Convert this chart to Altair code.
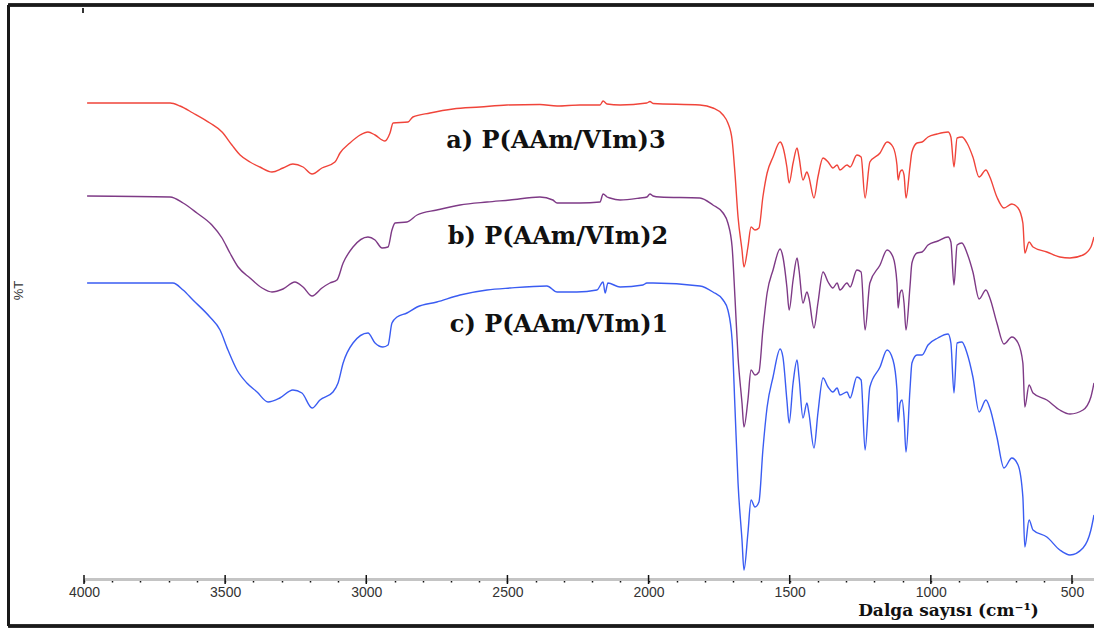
import altair as alt
import pandas as pd

# ---- data (wavenumber cm^-1, relative %T units) ----
wn_a = [3989, 3695, 3660, 3614, 3554, 3511, 3476, 3447, 3412, 3377, 3334, 3295, 3260, 3224, 3192,
        3157, 3111, 3093, 3058, 3022, 2994, 2969, 2934, 2916, 2905, 2852, 2835, 2774, 2693, 2597,
        2502, 2385, 2324, 2243, 2172, 2161, 2147, 2101, 2006, 1995, 1984, 1818, 1772, 1736, 1719,
        1704, 1694, 1683, 1669, 1662, 1648, 1637, 1623, 1609, 1595, 1580, 1559, 1534, 1524, 1510,
        1502, 1488, 1474, 1467, 1453, 1439, 1432, 1414, 1400, 1382, 1364, 1347, 1332, 1322, 1297,
        1286, 1262, 1247, 1233, 1216, 1180, 1155, 1134, 1120, 1116, 1109, 1102, 1095, 1088, 1074,
        1067, 1049, 1031, 1010, 978, 939, 929, 918, 907, 890, 872, 851, 829, 805, 791,
        766, 741, 713, 691, 674, 667, 652, 638, 589, 543, 507, 461, 433, 422]
t_a = [476, 476, 473, 466, 456, 447, 434, 424, 417, 412, 407, 411, 415, 412, 405,
       411, 417, 426, 436, 444, 447, 444, 438, 446, 456, 457, 462, 466, 470, 472,
       474, 474.5, 473, 474, 474, 478, 475, 474, 476, 477.5, 475.5, 474, 471, 464, 456,
       439, 406, 362, 329, 312, 332, 352, 349, 351, 382, 406, 422, 437, 432, 412,
       396, 416, 431, 422, 399, 407, 402, 381, 402, 421, 417, 411, 414, 409, 414,
       412, 424, 422, 381, 417, 426, 437, 432, 414, 399, 407, 409, 404, 381, 412,
       427, 436, 437, 442, 445, 447, 442, 412, 441, 442, 436, 422, 402, 409, 402,
       382, 371, 375, 371, 356, 326, 337, 332, 327, 322, 321, 324, 332, 342]

wn_b = [3989, 3695, 3649, 3600, 3547, 3511, 3483, 3454, 3412, 3369, 3334, 3295, 3253, 3224, 3192,
        3157, 3129, 3104, 3082, 3047, 2994, 2969, 2944, 2923, 2909, 2898, 2856, 2820, 2750, 2668,
        2572, 2491, 2385, 2339, 2324, 2243, 2172, 2161, 2147, 2137, 2101, 2030, 2006, 1995, 1984,
        1960, 1818, 1772, 1736, 1719, 1704, 1694, 1683, 1669, 1662, 1648, 1637, 1623, 1609, 1595,
        1580, 1559, 1534, 1524, 1510, 1502, 1488, 1474, 1467, 1453, 1439, 1432, 1414, 1400, 1382,
        1364, 1347, 1332, 1322, 1297, 1286, 1262, 1247, 1233, 1216, 1180, 1155, 1134, 1120, 1116,
        1109, 1102, 1095, 1088, 1074, 1067, 1049, 1031, 1010, 975, 939, 929, 918, 907, 890,
        872, 851, 829, 805, 791, 766, 741, 713, 691, 674, 667, 652, 638, 589, 543,
        507, 461, 433, 422]
t_b = [383, 382, 376, 366, 354, 341, 326, 312, 301, 291, 287, 290, 297, 292, 283,
       291, 296, 299, 316, 332, 342, 339, 331, 332, 349, 356, 357, 364, 369, 374,
       377, 379, 382, 379, 376, 376, 377, 385, 382, 381, 379, 381, 382, 385, 383,
       382, 381, 374, 366, 356, 332, 282, 222, 176, 152, 179, 209, 204, 207, 249,
       286, 309, 330, 322, 292, 269, 299, 321, 309, 276, 287, 281, 251, 276, 307,
       297, 291, 296, 289, 296, 292, 309, 307, 249, 296, 314, 329, 322, 296, 271,
       286, 289, 276, 249, 292, 316, 326, 327, 334, 338, 342, 337, 294, 334, 336,
       326, 307, 280, 289, 281, 256, 235, 242, 236, 216, 172, 194, 186, 179, 169,
       165, 169, 182, 196]

wn_c = [3989, 3685, 3649, 3614, 3554, 3518, 3490, 3458, 3423, 3387, 3348, 3306, 3260, 3228, 3192,
        3164, 3118, 3100, 3082, 3047, 2994, 2969, 2941, 2923, 2909, 2891, 2856, 2820, 2750, 2668,
        2572, 2491, 2360, 2324, 2254, 2183, 2161, 2154, 2144, 2101, 2020, 2006, 1984, 1818, 1772,
        1736, 1719, 1704, 1694, 1683, 1669, 1662, 1648, 1637, 1623, 1609, 1595, 1580, 1559, 1534,
        1524, 1510, 1502, 1488, 1474, 1467, 1453, 1439, 1432, 1414, 1400, 1382, 1364, 1347, 1332,
        1322, 1297, 1286, 1262, 1247, 1233, 1216, 1180, 1155, 1134, 1120, 1116, 1109, 1102, 1095,
        1088, 1074, 1067, 1049, 1031, 1010, 975, 939, 929, 918, 907, 890, 872, 851, 829,
        805, 791, 766, 741, 713, 691, 674, 667, 652, 638, 589, 543, 507, 461, 433, 422]
t_c = [296, 296, 289, 279, 262, 249, 229, 209, 196, 187, 177, 181, 189, 186, 171,
       179, 187, 196, 216, 236, 246, 236, 232, 234, 256, 262, 266, 272, 277, 284,
       289, 291, 293, 287, 287, 289, 297, 286, 296, 292, 294, 296, 296, 293, 287,
       279, 269, 239, 172, 96, 39, 9, 46, 79, 72, 77, 129, 172, 202, 230,
       222, 179, 156, 196, 219, 202, 161, 176, 166, 131, 166, 201, 192, 187, 191,
       184, 187, 181, 202, 199, 129, 192, 212, 229, 219, 189, 157, 176, 179, 162,
       127, 189, 216, 224, 224, 234, 241, 245, 236, 186, 236, 237, 226, 202, 167,
       179, 171, 142, 111, 121, 114, 82, 32, 59, 49, 42, 29, 24, 31, 49, 64]

series_names = ["a) P(AAm/VIm)3", "b) P(AAm/VIm)2", "c) P(AAm/VIm)1"]
series_colors = ["#f0443a", "#7e3a86", "#3a5cf2"]

label_wn = [2328, 2321, 2317]
label_t = [431, 335, 247]

tick_values = [4000, 3900, 3800, 3700, 3600, 3500, 3400, 3300, 3200, 3100, 3000, 2900, 2800,
               2700, 2600, 2500, 2400, 2300, 2200, 2100, 2000, 1900, 1800, 1700, 1600, 1500,
               1400, 1300, 1200, 1100, 1000, 900, 800, 700, 600, 500]
major_ticks = [4000, 3500, 3000, 2500, 2000, 1500, 1000, 500]

# ---- tables ----
rows = []
for name, wns, ts in zip(series_names, [wn_a, wn_b, wn_c], [t_a, t_b, t_c]):
    for w, t in zip(wns, ts):
        rows.append({"series": name, "wn": w, "T": t})
spectra = pd.DataFrame(rows)
labels = pd.DataFrame({"series": series_names, "wn": label_wn, "T": label_t})
majors = pd.DataFrame({"wn": major_ticks, "T": [0] * len(major_ticks)})

W, H = 1010, 574
xscale = alt.Scale(domain=[4000, 422], zero=False, nice=False)
yscale = alt.Scale(domain=[0, 574], zero=False, nice=False)

x_axis = alt.Axis(
    values=tick_values, format="d",
    labelExpr="datum.value % 500 === 0 ? datum.label : ''",
    domainColor="#c4c4c4", domainWidth=3,
    tickColor="#111111", tickWidth=1.5, tickSize=3,
    labelFont="Liberation Sans", labelFontSize=14, labelColor="#333333",
    labelPadding=3, labelFlush=False, labelOverlap=False, grid=False,
    titleFont="DejaVu Serif", titleFontSize=17,
    titleFontWeight="bold", titleColor="#111111", titleX=864, titleY=36,
    titleAlign="center", titleBaseline="alphabetic", titleAnchor="start",
)
y_axis = alt.Axis(
    domain=False, ticks=False, labels=False, grid=False,
    titleFont="Liberation Sans", titleFontSize=13, titleFontWeight="normal",
    titleColor="#333333", titleX=-66, titleY=285, titleAngle=-90,
    titleAlign="center", titleBaseline="middle",
)
X_TITLE = "Dalga sayısı (cm⁻¹)"
Y_TITLE = "%T"

lines = alt.Chart(spectra).mark_line(strokeWidth=1.4, clip=True, interpolate="monotone").encode(
    x=alt.X("wn:Q", scale=xscale, axis=x_axis, title=X_TITLE),
    y=alt.Y("T:Q", scale=yscale, axis=y_axis, title=Y_TITLE),
    color=alt.Color("series:N", scale=alt.Scale(domain=series_names, range=series_colors), legend=None),
    order=alt.Order("wn:Q", sort="descending"),
)

texts = alt.Chart(labels).mark_text(
    font="DejaVu Serif", fontWeight="bold", fontSize=24, align="center",
    baseline="alphabetic", color="#111111",
).encode(
    x=alt.X("wn:Q", scale=xscale, axis=x_axis, title=X_TITLE),
    y=alt.Y("T:Q", scale=yscale, axis=y_axis, title=Y_TITLE),
    text="series:N",
)

major_rules = alt.Chart(majors).mark_rule(color="#111111", strokeWidth=1.5).encode(
    x=alt.X("wn:Q", scale=xscale, axis=x_axis, title=X_TITLE),
    y=alt.value(570), y2=alt.value(579),
)

frame = alt.Chart(majors).mark_rule(color="#1a1a1a", strokeWidth=2.5)
frame_left = frame.encode(x=alt.value(-75.7), y=alt.value(0), y2=alt.value(621))
frame_top = frame.encode(x=alt.value(-75.7), x2=alt.value(W), y=alt.value(0))
frame_bottom = frame.encode(x=alt.value(-75.7), x2=alt.value(W), y=alt.value(621))
top_tick = alt.Chart(majors).mark_rule(color="#333333", strokeWidth=2).encode(
    x=alt.value(-1), y=alt.value(3), y2=alt.value(8))

chart = alt.layer(
    lines, major_rules, texts, frame_left, frame_top, frame_bottom, top_tick
).properties(
    width=W, height=H,
    autosize=alt.AutoSizeParams(type="none"),
    padding={"left": 84, "top": 5, "right": 0, "bottom": 49},
    background="white",
).configure_view(strokeWidth=0)

chart.save("out.html", embed_options={"renderer": "svg", "actions": False})
